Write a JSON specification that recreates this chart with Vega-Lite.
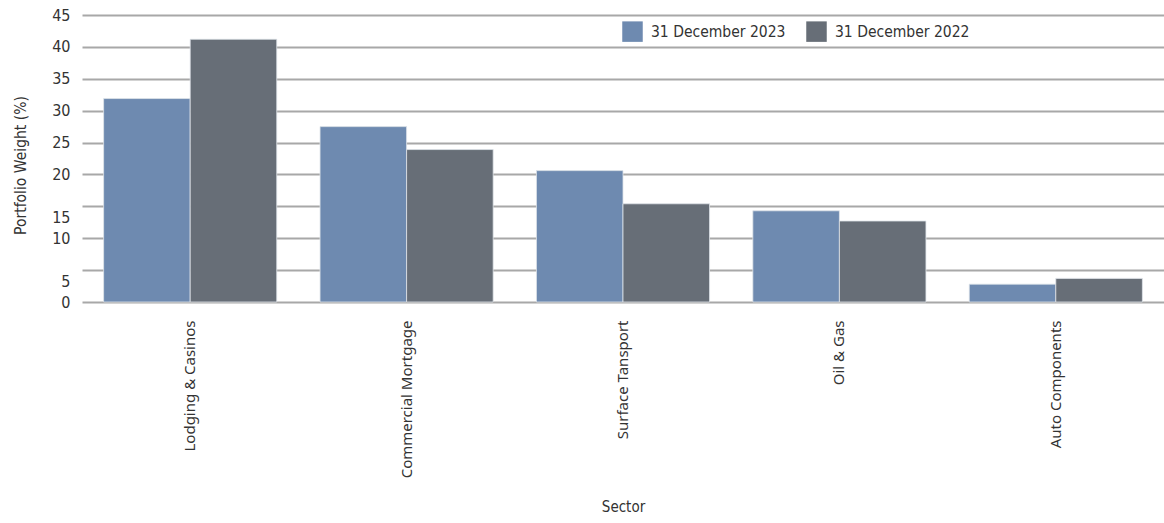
{
  "$schema": "https://vega.github.io/schema/vega-lite/v6.json",
  "autosize": "none",
  "width": 1082,
  "height": 287,
  "padding": {"left": 82, "top": 15, "right": 0, "bottom": 221},
  "background": "white",
  "data": {
    "values": [
      {"sector": "Lodging & Casinos", "date": "31 December 2023", "weight": 31.9},
      {"sector": "Lodging & Casinos", "date": "31 December 2022", "weight": 41.2},
      {"sector": "Commercial Mortgage", "date": "31 December 2023", "weight": 27.5},
      {"sector": "Commercial Mortgage", "date": "31 December 2022", "weight": 23.9},
      {"sector": "Surface Tansport", "date": "31 December 2023", "weight": 20.6},
      {"sector": "Surface Tansport", "date": "31 December 2022", "weight": 15.4},
      {"sector": "Oil & Gas", "date": "31 December 2023", "weight": 14.3},
      {"sector": "Oil & Gas", "date": "31 December 2022", "weight": 12.7},
      {"sector": "Auto Components", "date": "31 December 2023", "weight": 2.8},
      {"sector": "Auto Components", "date": "31 December 2022", "weight": 3.7}
    ]
  },
  "mark": {"type": "bar", "stroke": "#dfe4ea", "strokeWidth": 0.8},
  "encoding": {
    "x": {
      "field": "sector",
      "type": "nominal",
      "sort": null,
      "scale": {"paddingInner": 0.2, "paddingOuter": 0.1},
      "axis": {
        "title": "Sector",
        "titleFont": "'DejaVu Sans Condensed', 'Liberation Sans', sans-serif",
        "titleFontSize": 15,
        "titleFontWeight": "normal",
        "titleColor": "#333333",
        "titleY": 204,
        "titleBaseline": "middle",
        "labelAngle": -90,
        "labelFont": "Noto Sans",
        "labelFontSize": 15,
        "labelColor": "#333333",
        "labelPadding": 18,
        "domain": false,
        "ticks": false,
        "grid": false
      }
    },
    "xOffset": {"field": "date", "sort": ["31 December 2023", "31 December 2022"]},
    "y": {
      "field": "weight",
      "type": "quantitative",
      "scale": {"domain": [0, 45], "nice": false},
      "axis": {
        "title": "Portfolio Weight (%)",
        "titleFont": "'DejaVu Sans Condensed', 'Liberation Sans', sans-serif",
        "titleFontSize": 15.5,
        "titleFontWeight": "normal",
        "titleColor": "#333333",
        "titleX": -62,
        "titleY": 150,
        "titleAngle": -90,
        "titleAlign": "center",
        "titleBaseline": "middle",
        "values": [0, 5, 10, 15, 20, 25, 30, 35, 40, 45],
        "labelFont": "'DejaVu Sans Condensed', 'Liberation Sans', sans-serif",
        "labelFontSize": 16,
        "labelColor": "#333333",
        "labelPadding": 12,
        "labelOffset": {"condition": {"test": "datum.value == 15 || datum.value == 5", "value": 11}, "value": 0},
        "domain": false,
        "ticks": false,
        "grid": true,
        "gridColor": "#a8a8a8",
        "gridWidth": 2
      }
    },
    "color": {
      "field": "date",
      "type": "nominal",
      "sort": ["31 December 2023", "31 December 2022"],
      "scale": {"domain": ["31 December 2023", "31 December 2022"], "range": ["#6e8ab0", "#676e77"]},
      "legend": {
        "title": null,
        "orient": "none",
        "direction": "horizontal",
        "legendX": 540,
        "legendY": 6,
        "symbolType": "square",
        "symbolSize": 420,
        "symbolStrokeWidth": 0,
        "labelFont": "'DejaVu Sans Condensed', 'Liberation Sans', sans-serif",
        "labelFontSize": 15.5,
        "labelColor": "#333333",
        "labelOffset": 8,
        "columnPadding": 20
      }
    }
  },
  "config": {"view": {"stroke": null}}
}
